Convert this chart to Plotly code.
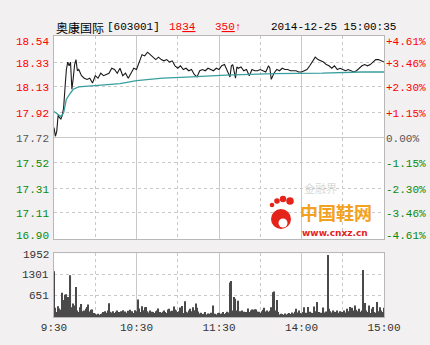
import plotly.graph_objects as go

# ---------------- data ----------------
prev_close = 17.72
price_ticks = [18.54, 18.33, 18.13, 17.92, 17.72, 17.52, 17.31, 17.11, 16.90]
pct_ticks = ["+4.61%", "+3.46%", "+2.30%", "+1.15%", "0.00%", "-1.15%", "-2.30%", "-3.46%", "-4.61%"]
vol_ticks = [1952, 1301, 651]
time_tickvals = [0, 60, 120, 180, 240]
time_ticktext = ["9:30", "10:30", "11:30", "14:00", "15:00"]

price_min = [0, 1, 2, 3, 4, 5, 6, 7, 8, 9, 10, 11, 12, 13, 14, 15, 16, 17, 18, 19, 20,
             22, 24, 26, 28, 30, 32, 34, 36, 38, 40, 42, 44, 46, 48, 50, 52, 54, 56, 58, 60,
             62, 64, 66, 68, 70, 72, 74, 76, 78, 80, 82, 84, 86, 88, 90, 92, 94, 96, 98, 100,
             102, 104, 106, 108, 110, 112, 114, 116, 118, 120, 122, 124, 126, 128, 129, 130,
             132, 133, 134, 136, 138, 140, 142, 144, 146, 148, 150, 152, 154, 156, 157, 158,
             160, 162, 164, 166, 168, 170, 172, 174, 176, 178, 180, 182, 184, 186, 188, 190,
             192, 194, 196, 198, 200, 202, 204, 206, 208, 210, 212, 214, 216, 218, 220, 222,
             224, 226, 228, 230, 232, 234, 236, 238, 240]
price_val = [17.80, 17.73, 17.77, 17.90, 17.88, 17.87, 17.90, 17.96, 18.12, 18.27, 18.33, 18.30,
             18.33, 18.11, 18.20, 18.31, 18.35, 18.26, 18.27, 18.25, 18.22,
             18.20, 18.19, 18.20, 18.16, 18.22, 18.20, 18.24, 18.22, 18.23, 18.24, 18.28, 18.27,
             18.24, 18.28, 18.22, 18.24, 18.20, 18.24, 18.28, 18.27,
             18.33, 18.39, 18.38, 18.41, 18.39, 18.37, 18.35, 18.37, 18.35, 18.34, 18.35, 18.33,
             18.34, 18.30, 18.28, 18.30, 18.27, 18.28, 18.26, 18.27,
             18.23, 18.21, 18.26, 18.27, 18.26, 18.28, 18.27, 18.26, 18.28, 18.27, 18.30, 18.31,
             18.26, 18.21, 18.30, 18.31,
             18.20, 18.29, 18.28, 18.29, 18.26, 18.27, 18.22, 18.27, 18.26, 18.26, 18.27, 18.26,
             18.25, 18.30, 18.28, 18.19,
             18.24, 18.27, 18.26, 18.28, 18.27, 18.27, 18.26, 18.26, 18.26, 18.25, 18.25, 18.26,
             18.27, 18.30, 18.33, 18.37,
             18.35, 18.34, 18.33, 18.31, 18.30, 18.28, 18.30, 18.27, 18.28, 18.27, 18.26, 18.27,
             18.26, 18.25, 18.26, 18.28,
             18.30, 18.31, 18.30, 18.31, 18.33, 18.35, 18.35, 18.34, 18.33]

avg_min = [0, 5, 7, 9, 12, 14, 18, 30, 48, 60, 79, 100, 125, 160, 195, 224, 240]
avg_val = [17.93, 17.89, 17.92, 18.03, 18.08, 18.11, 18.13, 18.14, 18.155, 18.18, 18.20,
           18.21, 18.225, 18.237, 18.24, 18.25, 18.25]

volume = [1400, 280, 150, 330, 260, 220, 740, 520, 680, 700, 610, 560, 1280, 300, 410, 350,
          920, 200, 150, 300, 400, 180, 200, 250, 310, 380, 170, 220, 230, 120,
          90, 80, 100, 70, 90, 110, 150, 180, 130, 200, 420, 160, 140, 180, 120, 160, 200, 150,
          120, 180, 210, 140, 170, 130, 190, 220, 150, 180, 120, 210,
          180, 540, 260, 150, 330, 210, 300, 310, 180, 140, 200, 160, 150, 120, 180, 200, 260,
          150, 130, 160, 200, 150, 120, 230, 250, 180, 190, 320, 230, 200,
          150, 180, 290, 340, 120, 480, 160, 140, 200, 250, 180, 300, 210, 410, 280, 170, 110,
          130, 90, 100, 150, 80, 110, 100, 130, 90, 350, 100, 80, 120,
          130, 100, 110, 150, 90, 120, 160, 140, 1060, 1100, 200, 610, 560, 200, 500, 180, 140,
          200, 160, 120, 150, 260, 150, 200, 230, 220, 240, 230, 170, 160,
          130, 180, 220, 280, 170, 200, 160, 190, 300, 760, 780, 200, 520, 150, 80, 100, 90, 70,
          110, 80, 100, 120, 90, 140, 110, 160, 250, 140, 200, 120,
          110, 150, 300, 130, 100, 310, 160, 130, 120, 320, 180, 460, 120, 150, 130, 110, 290,
          140, 170, 1900, 250, 180, 140, 200, 160, 150, 200, 130, 180, 160,
          150, 200, 140, 250, 180, 310, 170, 280, 200, 350, 220, 180, 250, 160, 200, 1440, 430,
          200, 150, 350, 120, 250, 310, 150, 130, 460, 180, 300, 200, 150, 280]
vol_min = list(range(len(volume)))

# ---------------- geometry helpers ----------------
W, H = 430, 345
L, R, T, B = 54, 384, 36, 317
PW, PH = R - L, B - T


def pxx(x):
    return (x - L) / PW


def pxy(y):
    return (B - y) / PH


price_dom = [pxy(239), 1.0]
vol_dom = [0.0, pxy(253.3)]

MONO = "Liberation Mono, DejaVu Sans Mono, monospace"
CJK = "Noto Sans CJK SC"
RED = "#ff0000"
GREEN = "#0a8a0a"
GREY = "#555555"
GRID = "#c9c9c9"
BORDER = "#b8b8b8"

fig = go.Figure()
fig.add_trace(go.Scatter(x=price_min, y=price_val, mode="lines",
                         line=dict(color="#1a1a1a", width=1.1), xaxis="x", yaxis="y",
                         hoverinfo="skip"))
fig.add_trace(go.Scatter(x=avg_min, y=avg_val, mode="lines",
                         line=dict(color="#3a9e9e", width=1.3), xaxis="x", yaxis="y",
                         hoverinfo="skip"))
fig.add_trace(go.Bar(x=vol_min, y=volume, width=0.8, marker=dict(color="#4a4a4a", line=dict(width=0)),
                     xaxis="x2", yaxis="y2", hoverinfo="skip"))

ymin = min(price_ticks) - 0.001
ymax = max(price_ticks) + 0.001

common_x = dict(range=[0, 240], showgrid=True, gridcolor=GRID, gridwidth=1,
                zeroline=False, showline=True, mirror=True,
                linecolor=BORDER, linewidth=1, ticks="",
                minor=dict(tickvals=[30, 90, 150, 210], showgrid=True, gridcolor=GRID,
                           griddash="dot", gridwidth=1, ticks=""))

fig.update_layout(
    width=W, height=H, autosize=False,
    margin=dict(l=L, r=W - R, t=T, b=H - B, pad=0),
    paper_bgcolor="#f2f0f0", plot_bgcolor="#ffffff",
    showlegend=False,
    xaxis=dict(domain=[0, 1], anchor="y", showticklabels=False, tickvals=[60, 120, 180], **common_x),
    yaxis=dict(domain=price_dom, range=[ymin, ymax], tickvals=price_ticks, showticklabels=False,
               showgrid=True, gridcolor=GRID, griddash="dot", zeroline=False, showline=True,
               mirror=True, linecolor=BORDER, ticks=""),
    xaxis2=dict(domain=[0, 1], anchor="y2", matches="x", showticklabels=True,
                tickvals=time_tickvals, ticktext=time_ticktext,
                tickfont=dict(family=MONO, size=11, color="#333333"), **common_x),
    yaxis2=dict(domain=vol_dom, range=[0, 1952], tickvals=vol_ticks, showticklabels=False,
                showgrid=True, gridcolor=GRID, griddash="dot", zeroline=False, showline=True,
                mirror=True, linecolor=BORDER, ticks=""),
)

# solid middle line at previous close
fig.add_shape(type="line", xref="x domain", yref="y", x0=0, x1=1, y0=prev_close, y1=prev_close,
              line=dict(color=GRID, width=1), layer="below")

anns = []
n = len(price_ticks)
for i, (v, p) in enumerate(zip(price_ticks, pct_ticks)):
    if v > prev_close:
        c = RED
    elif v < prev_close:
        c = GREEN
    else:
        c = GREY
    ys = -6 if i == 0 else (3 if i == n - 1 else -1.5)
    anns.append(dict(x=0, xref="paper", y=v, yref="y", text=f"{v:.2f}", showarrow=False,
                     xanchor="right", yanchor="middle", xshift=-3, yshift=ys,
                     font=dict(family=MONO, size=11, color=c)))
    anns.append(dict(x=1, xref="paper", y=v, yref="y", text=p, showarrow=False,
                     xanchor="left", yanchor="middle", xshift=0, yshift=ys,
                     font=dict(family=MONO, size=11, color=c)))
for i, v in enumerate(vol_ticks):
    ys = -2 if i == 0 else 0
    anns.append(dict(x=0, xref="paper", y=v, yref="y2", text=str(v), showarrow=False,
                     xanchor="right", yanchor="middle", xshift=-3, yshift=ys,
                     font=dict(family=MONO, size=11, color="#333333")))

hy = pxy(27)
anns.append(dict(x=0, xref="paper", y=hy, yref="paper", text="奥康国际", showarrow=False,
                 xanchor="left", yanchor="middle", font=dict(family=CJK, size=12, color="#000000")))
anns.append(dict(x=pxx(105), xref="paper", y=hy, yref="paper", text="[603001]", showarrow=False,
                 xanchor="left", yanchor="middle", font=dict(family=MONO, size=11, color="#000000")))
anns.append(dict(x=pxx(167), xref="paper", y=hy, yref="paper",
                 text='18<span style="text-decoration:underline">34</span>', showarrow=False,
                 xanchor="left", yanchor="middle", font=dict(family=MONO, size=11, color=RED)))
anns.append(dict(x=pxx(213), xref="paper", y=hy, yref="paper",
                 text='3<span style="text-decoration:underline">50</span>↑', showarrow=False,
                 xanchor="left", yanchor="middle", font=dict(family=MONO, size=11, color=RED)))
anns.append(dict(x=pxx(269), xref="paper", y=hy, yref="paper", text="2014-12-25 15:00:35",
                 showarrow=False, xanchor="left", yanchor="middle",
                 font=dict(family=MONO, size=11, color="#000000")))

# watermark
anns.append(dict(x=pxx(302), xref="paper", y=pxy(188), yref="paper", text="金融界", showarrow=False,
                 xanchor="left", yanchor="middle",
                 font=dict(family=CJK, size=11, color="rgba(190,190,190,0.6)")))
anns.append(dict(x=pxx(298), xref="paper", y=pxy(212), yref="paper", text="<b>中国鞋网</b>",
                 showarrow=False, xanchor="left", yanchor="middle",
                 font=dict(family=CJK, size=18, color="#f3a21f")))
anns.append(dict(x=pxx(300), xref="paper", y=pxy(233), yref="paper", text="<b>www.cnxz.cn</b>",
                 showarrow=False, xanchor="left", yanchor="middle",
                 font=dict(family="DejaVu Sans", size=9, color="#e4231b")))
fig.update_layout(annotations=anns)

# footprint logo
def circ(cx, cy, r, color):
    fig.add_shape(type="circle", xref="paper", yref="paper",
                  x0=pxx(cx - r), x1=pxx(cx + r), y0=pxy(cy + r), y1=pxy(cy - r),
                  fillcolor=color, line=dict(width=0), layer="above")

circ(281, 219, 10, "#e4231b")
circ(283, 223, 4.5, "#ffffff")
circ(272, 205, 2.3, "#e4231b")
circ(277, 201, 2.8, "#e4231b")
circ(283, 199, 3.2, "#e4231b")
circ(290, 201, 3.8, "#e4231b")

fig.write_html("out.html")
